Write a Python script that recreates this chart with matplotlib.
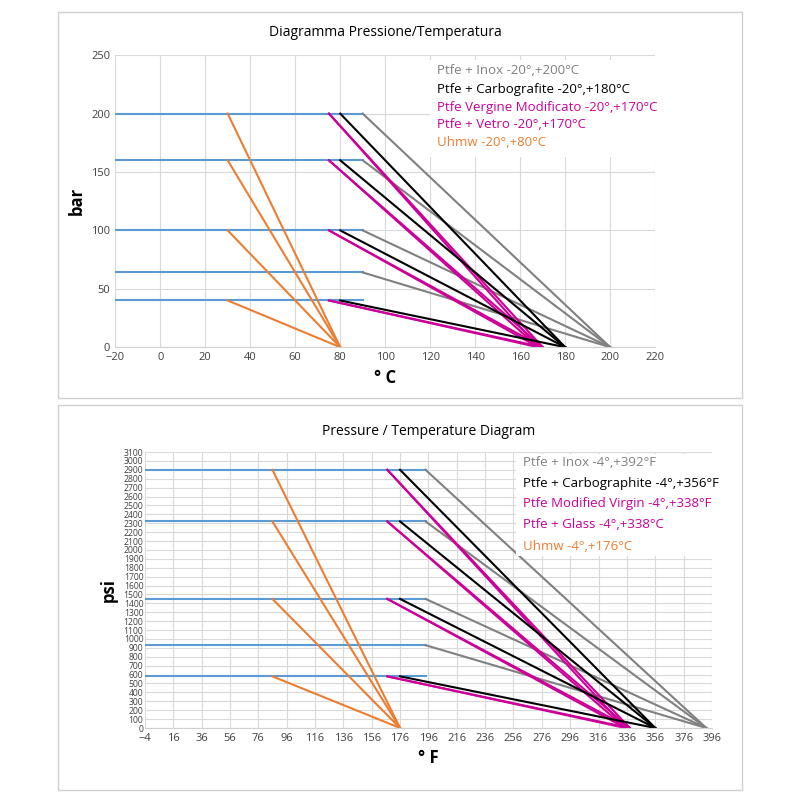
import matplotlib
matplotlib.use("Agg")
import matplotlib.pyplot as plt
from matplotlib.patches import Rectangle

plt.rcParams['font.family'] = ['Open Sans', 'DejaVu Sans']

# Top chart (°C / bar)
c_levels = [200, 160, 100, 64, 40]
c_blue_x = [-20, 90]
c_gray = {'x0': 90, 'x1': 200, 'levels': [200, 160, 100, 64]}
c_black = {'x0': 80, 'x1': 180, 'levels': [200, 160, 100, 40]}
c_mag1 = {'x0': 75, 'x1': 170, 'levels': [200, 160, 100, 40]}
c_mag2 = {'x0': 75, 'x1': 168, 'levels': [200, 160, 100, 40]}
c_orange = {'x0': 30, 'x1': 80, 'levels': [200, 160, 100, 40]}
c_legend = ["Ptfe + Inox -20°,+200°C", "Ptfe + Carbografite -20°,+180°C",
            "Ptfe Vergine Modificato -20°,+170°C", "Ptfe + Vetro -20°,+170°C",
            "Uhmw -20°,+80°C"]

# Bottom chart (°F / psi)
f_levels = [2900, 2320, 1450, 930, 580]
f_blue_x = [-4, 194]
f_gray = {'x0': 194, 'x1': 392, 'levels': [2900, 2320, 1450, 930]}
f_black = {'x0': 176, 'x1': 356, 'levels': [2900, 2320, 1450, 580]}
f_mag1 = {'x0': 167, 'x1': 338, 'levels': [2900, 2320, 1450, 580]}
f_mag2 = {'x0': 167, 'x1': 335, 'levels': [2900, 2320, 1450, 580]}
f_orange = {'x0': 86, 'x1': 176, 'levels': [2900, 2320, 1450, 580]}
f_legend = ["Ptfe + Inox -4°,+392°F", "Ptfe + Carbographite -4°,+356°F",
            "Ptfe Modified Virgin -4°,+338°F", "Ptfe + Glass -4°,+338°C",
            "Uhmw -4°,+176°C"]

BLUE = '#5b9bd5'; GRAY = '#808080'; BLACK = '#000000'; MAG = '#cc0099'; ORANGE = '#ed7d31'
leg_colors = [GRAY, BLACK, MAG, MAG, ORANGE]

fig = plt.figure(figsize=(8, 8), dpi=100)
for (y0, h) in [(12, 386), (405, 385)]:
    fig.add_artist(Rectangle((58/800, 1-(y0+h)/800), 684/800, h/800, transform=fig.transFigure,
                             fill=False, edgecolor='#d0d0d0', lw=1))

def draw(ax, levels, bx, series, xticks, yticks, xlim, ylim):
    ax.set_axisbelow(True)
    ax.grid(True, color='#d9d9d9', lw=0.8)
    for lv in levels:
        ax.plot(bx, [lv, lv], color=BLUE, lw=1.5)
    for s, col in series:
        for lv in s['levels']:
            ax.plot([s['x0'], s['x1']], [lv, 0], color=col, lw=1.5)
    ax.set_xticks(xticks); ax.set_yticks(yticks)
    ax.set_xlim(*xlim); ax.set_ylim(*ylim)
    for sp in ['top', 'right', 'left']:
        ax.spines[sp].set_visible(False)
    ax.spines['bottom'].set_color('#d0d0d0')
    ax.tick_params(length=0, labelsize=8, colors='#404040')

ax1 = fig.add_axes([0.144, 0.566, 0.675, 0.365])
draw(ax1, c_levels, c_blue_x, [(c_gray, GRAY), (c_mag1, MAG), (c_mag2, MAG), (c_black, BLACK), (c_orange, ORANGE)],
     range(-20, 221, 20), range(0, 251, 50), (-20, 220), (0, 250))
ax1.set_title("Diagramma Pressione/Temperatura", fontsize=10, pad=14)
ax1.set_xlabel("° C", fontsize=12, fontweight='bold')
ax1.set_ylabel("bar", fontsize=12, fontweight='bold')

ax2 = fig.add_axes([0.181, 0.09, 0.709, 0.345])
draw(ax2, f_levels, f_blue_x, [(f_gray, GRAY), (f_mag1, MAG), (f_mag2, MAG), (f_black, BLACK), (f_orange, ORANGE)],
     range(-4, 397, 20), range(0, 3101, 100), (-4, 396), (0, 3100))
ax2.tick_params(axis='y', labelsize=6.2, pad=1)
ax2.set_title("Pressure / Temperature Diagram", fontsize=10, pad=12)
ax2.set_xlabel("° F", fontsize=12, fontweight='bold')
ax2.set_ylabel("psi", fontsize=12, fontweight='bold')

fig.add_artist(Rectangle((430/800, 1-157/800), 225/800, 97/800, transform=fig.transFigure,
                         facecolor='white', edgecolor='none', zorder=5))
for i, (t, c) in enumerate(zip(c_legend, leg_colors)):
    fig.text(437/800, 1-(71+18*i)/800, t, color=c, fontsize=9.5, va='center', zorder=6)
fig.add_artist(Rectangle((516/800, 1-556/800), 196/800, 102/800, transform=fig.transFigure,
                         facecolor='white', edgecolor='none', zorder=5))
for i, (t, c) in enumerate(zip(f_legend, leg_colors)):
    fig.text(523/800, 1-(462+21*i)/800, t, color=c, fontsize=9.5, va='center', zorder=6)

fig.savefig("out.png", dpi=100)
